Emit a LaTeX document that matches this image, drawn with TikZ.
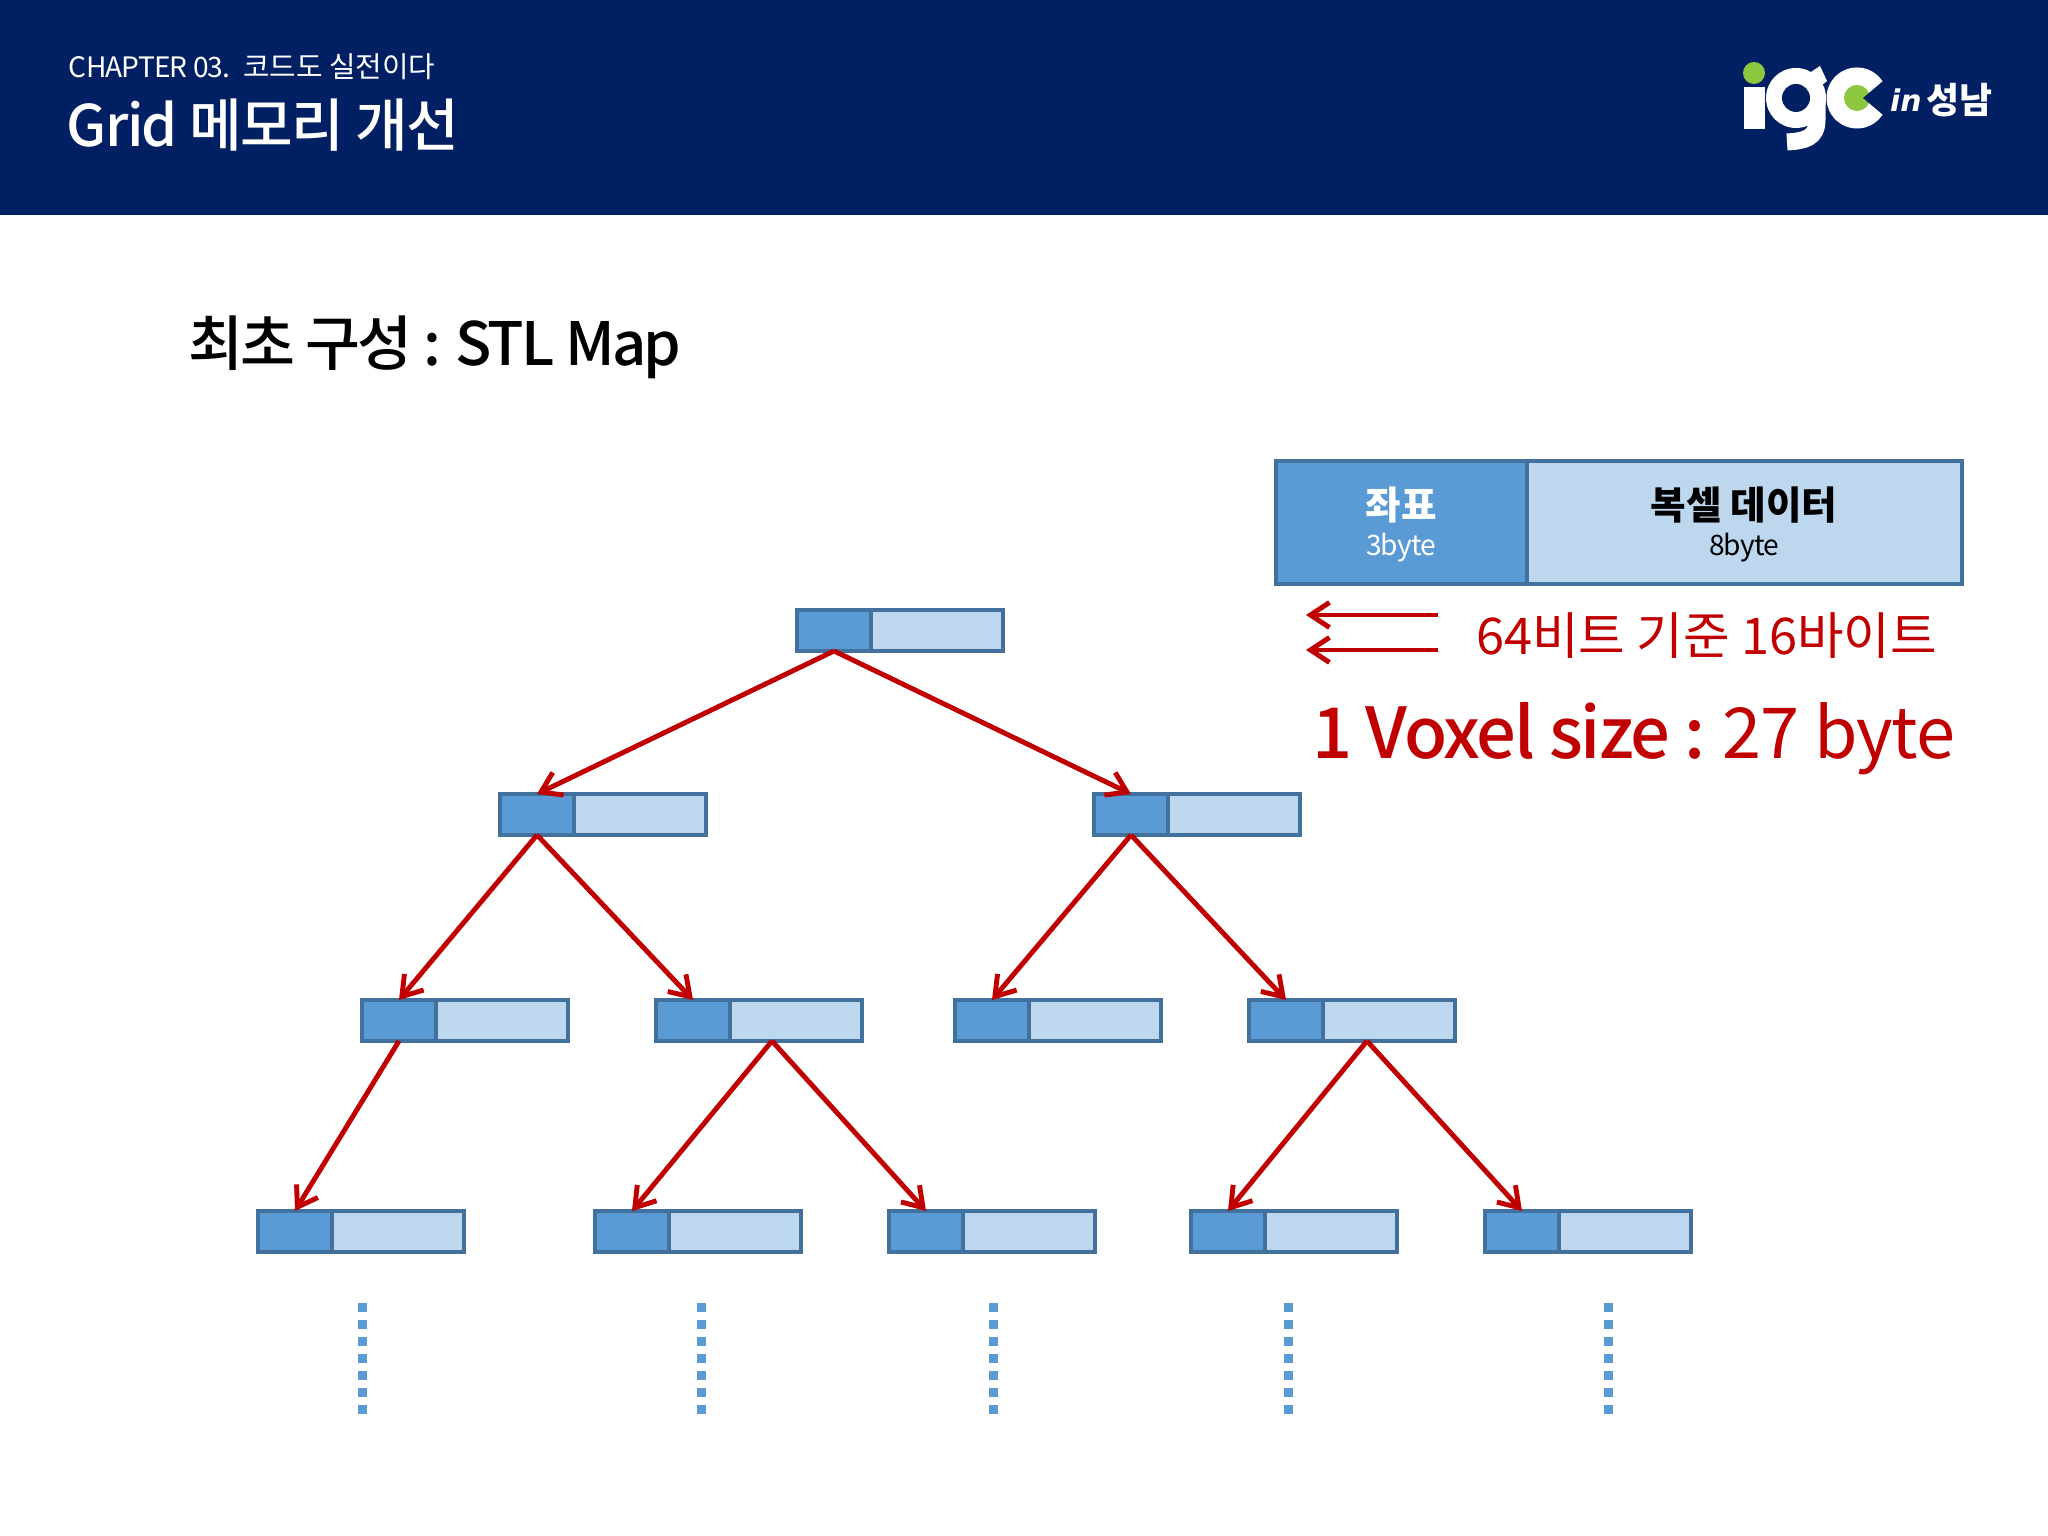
\documentclass[tikz,border=0pt]{standalone}
\usepackage{fontspec}
\setmainfont{Noto Sans CJK KR}
\newfontfamily\medfont[LetterSpace=-3]{Noto Sans CJK KR Medium}
\newfontfamily\medtight[LetterSpace=-4.7]{Noto Sans CJK KR Medium}
\newfontfamily\tightfont[LetterSpace=-3]{Noto Sans CJK KR}
\newfontfamily\snugfont[LetterSpace=-1.5]{Noto Sans CJK KR}
\usetikzlibrary{arrows.meta,positioning}
\definecolor{navy}{HTML}{011F63}
\definecolor{keyblue}{HTML}{5B9BD5}
\definecolor{datablue}{HTML}{BDD7EE}
\definecolor{edgeblue}{HTML}{41719C}
\definecolor{voxred}{HTML}{C00000}
\definecolor{leaf}{HTML}{8DC63F}
\newcommand{\fsz}[1]{\fontsize{#1}{#1}\selectfont}
\tikzset{
  keycell/.style={draw=edgeblue, fill=keyblue, line width=0.9pt, minimum width=0.74cm,
    minimum height=0.41cm, inner sep=0pt, outer sep=0pt, anchor=north west},
  datacell/.style={draw=edgeblue, fill=datablue, line width=0.9pt, minimum width=1.32cm,
    minimum height=0.41cm, inner sep=0pt, outer sep=0pt},
  link/.style={draw=voxred, line width=1.4pt, -{Straight Barb[length=0.19cm,width=0.25cm]}},
  txt/.style={inner sep=0pt, outer sep=0pt},
}
\begin{document}
\begin{tikzpicture}
  \useasboundingbox (0,0) rectangle (20.48,15.36);
  % header
  \fill[navy] (0,13.21) rectangle (20.48,15.36);
  \node[txt, anchor=west, text=white] (chapter) at (0.69,14.69) {\fsz{8}{\tightfont CHAPTER 03.}\ \ \fsz{8.2}코드도 실전이다};
  \node[txt, anchor=west, text=white] (pagetitle) at (0.67,14.11) {\fsz{16.3}\medfont Grid 메모리 개선};
  % logo
  \fill[leaf] (17.54,14.63) circle (0.11);
  \fill[white] (17.44,14.07) rectangle (17.65,14.49);
  \fill[white] (17.96,14.38) circle (0.30);
  \draw[white, line width=0.17cm] (18.17,14.40) -- (18.17,14.16) .. controls (18.17,13.98) and (18.05,13.95) .. (17.87,13.94);
  \fill[white] (18.05,14.60) -- (18.20,14.70) -- (18.27,14.55) -- (18.15,14.45) -- cycle;
  \fill[navy] (17.96,14.38) circle (0.14);
  \fill[white] (18.57,14.38) circle (0.305);
  \fill[leaf] (18.57,14.38) circle (0.13);
  \fill[navy] (18.63,14.38) -- (18.95,14.65) -- (18.95,14.11) -- cycle;
  \node[txt, anchor=west, text=white] (logoin) at (18.90,14.36) {\fsz{8.5}\fontspec{DejaVu Sans}\bfseries\itshape in};
  \node[txt, anchor=east, text=white] (logocity) at (19.92,14.36) {\fsz{10.2}\bfseries 성남};
  % heading
  \node[txt, anchor=west] (heading) at (1.88,11.89) {\fsz{17}\medtight 최초 구성 : STL Map};
  % legend
  \node[draw=edgeblue, fill=keyblue, line width=0.9pt, minimum width=2.51cm, minimum height=1.23cm,
    inner sep=0pt, outer sep=0pt, anchor=north west] (lkey) at (12.76,10.75) {};
  \node[draw=edgeblue, fill=datablue, line width=0.9pt, minimum width=4.35cm, minimum height=1.23cm,
    inner sep=0pt, outer sep=0pt, right=0pt of lkey] (ldata) {};
  \node[txt, text=white] (lkeya) at (14.01,10.31) {\fsz{11}\bfseries 좌표};
  \node[txt, text=white] (lkeyb) at (14.01,9.88) {\fsz{8}\tightfont 3byte};
  \node[txt] (ldataa) at (17.44,10.31) {\fsz{11}\bfseries 복셀 데이터};
  \node[txt] (ldatab) at (17.44,9.88) {\fsz{8}\tightfont 8byte};
  \coordinate (ra) at (14.38,9.21);
  \coordinate (rb) at (13.06,9.21);
  \coordinate (rc) at (14.38,8.86);
  \coordinate (rd) at (13.06,8.86);
  \draw[link] (ra) -- (rb);
  \draw[link] (rc) -- (rd);
  \node[txt, anchor=west, text=voxred] (bits) at (14.76,9.00) {\fsz{14.4}64비트 기준 16바이트};
  \node[txt, anchor=west, text=voxred] (voxsize) at (13.12,7.97) {\fsz{20}{\medfont 1 Voxel size :} \hspace{-1pt}{\snugfont 27 byte}};
  % tree
  \foreach \nm/\x/\y in {a/7.97/9.26,
      b/5.00/7.42, c/10.94/7.42,
      d/3.62/5.36, e/6.56/5.36, f/9.55/5.36, g/12.49/5.36,
      h/2.58/3.25, i/5.95/3.25, j/8.89/3.25, k/11.91/3.25, l/14.85/3.25} {
    \node[keycell] (k\nm) at (\x,\y) {};
    \node[datacell, right=0pt of k\nm] (d\nm) {};
  }
  \coordinate (se) at (7.72,4.95);
  \coordinate (sg) at (13.67,4.95);
  \draw[link] (ka.south) -- (kb.north);
  \draw[link] (ka.south) -- (kc.north);
  \draw[link] (kb.south) -- (kd.north);
  \draw[link] (kb.south) -- (ke.north);
  \draw[link] (kc.south) -- (kf.north);
  \draw[link] (kc.south) -- (kg.north);
  \draw[link] (kd.south) -- (kh.north);
  \draw[link] (se) -- (ki.north);
  \draw[link] (se) -- (kj.north);
  \draw[link] (sg) -- (kk.north);
  \draw[link] (sg) -- (kl.north);
  % dotted tails
  \foreach \x in {3.62,7.01,9.93,12.88,16.08} {
    \draw[keyblue, line width=0.09cm, dash pattern=on 0.09cm off 0.08cm] (\x,2.33) -- (\x,1.20);
  }
\end{tikzpicture}
\end{document}
